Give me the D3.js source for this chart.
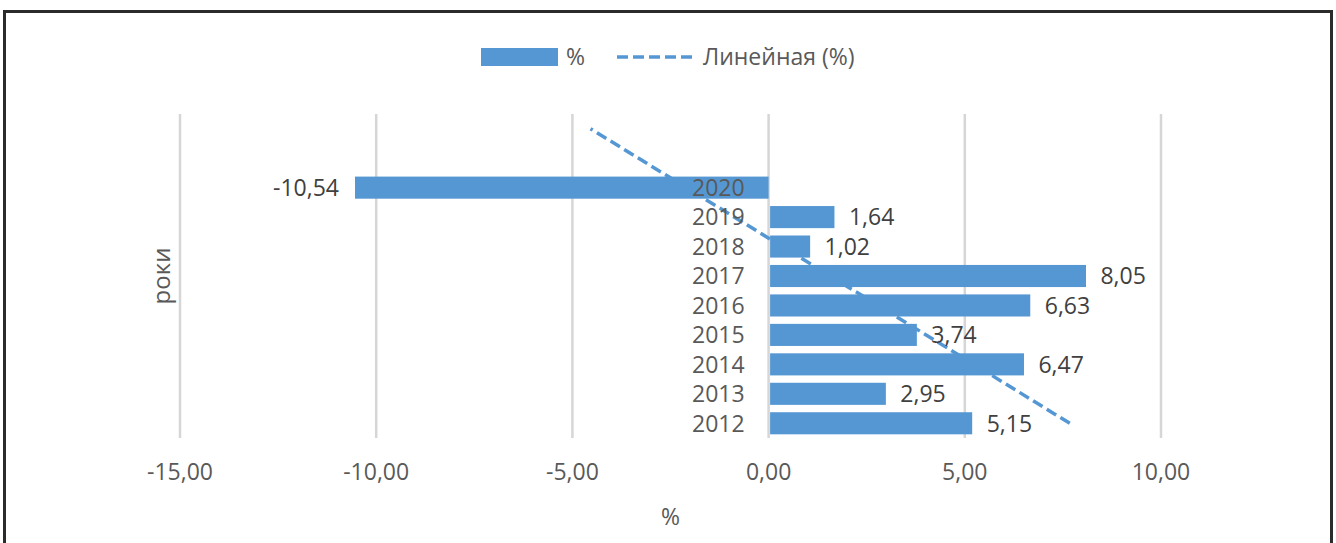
<!DOCTYPE html>
<html>
<head>
<meta charset="utf-8">
<script src="https://cdn.jsdelivr.net/npm/d3@7/dist/d3.min.js"></script>
<style>
  body { margin: 0; background: #fff; }
  text { font-family: "Open Sans", "Liberation Sans", sans-serif; }
</style>
</head>
<body>
<svg id="chart" width="1336" height="543"></svg>
<script>
// data
var years = ["2012", "2013", "2014", "2015", "2016", "2017", "2018", "2019", "2020"]
var values = [5.15, 2.95, 6.47, 3.74, 6.63, 8.05, 1.02, 1.64, -10.54]
var xTicks = [-15, -10, -5, 0, 5, 10]
var forecastSlots = 2   // the trendline runs two empty rows past 2020

var blue = "#5597d3"
var fmt = function (v) { return d3.format(".2f")(v).replace(".", ",").replace("\u2212", "-") }

var svg = d3.select("#chart")

// outer frame (bottom edge is cut off in the picture)
svg.append("rect")
  .attr("x", 4.5).attr("y", 11.5)
  .attr("width", 1327).attr("height", 600)
  .attr("fill", "none")
  .attr("stroke", "#2b2b2b")
  .attr("stroke-width", 3)

var x = d3.scaleLinear().domain([-15, 10]).range([180, 1161])

var slots = d3.range(years.length + forecastSlots)
var y = d3.scaleBand()
  .domain(slots)
  .range([438, 114])
  .paddingInner(0.25)
  .paddingOuter(0.125)
var yc = function (i) { return y(i) + y.bandwidth() / 2 }

// gridlines
svg.append("g")
  .selectAll("line")
  .data(xTicks)
  .enter()
  .append("line")
    .attr("x1", d => x(d)).attr("x2", d => x(d))
    .attr("y1", 114).attr("y2", 438)
    .attr("stroke", "#d6d6d6")
    .attr("stroke-width", 2.5)

// x tick labels
svg.append("g")
  .selectAll("text")
  .data(xTicks)
  .enter()
  .append("text")
    .attr("x", d => x(d))
    .attr("y", 472)
    .attr("dy", "0.35em")
    .attr("text-anchor", "middle")
    .attr("font-size", 23)
    .attr("fill", "#595959")
    .text(fmt)

// bars
svg.append("g")
  .selectAll("rect")
  .data(values)
  .enter()
  .append("rect")
    .attr("x", d => x(Math.min(0, d)) + (d > 0 ? 1.5 : 0))
    .attr("y", (d, i) => y(i))
    .attr("width", d => Math.abs(x(d) - x(0)))
    .attr("height", y.bandwidth())
    .attr("fill", blue)

// linear trendline (least squares over the years, extended two slots)
var n = values.length
var mx = d3.mean(d3.range(n))
var my = d3.mean(values)
var sxy = d3.sum(values, (v, i) => (i - mx) * (v - my))
var sxx = d3.sum(d3.range(n), i => (i - mx) * (i - mx))
var slope = sxy / sxx
var icpt = my - slope * mx
var ends = [0, slots.length - 1]

svg.append("path")
  .datum(ends)
  .attr("d", d3.line().x(i => x(icpt + slope * i)).y(i => yc(i)))
  .attr("fill", "none")
  .attr("stroke", blue)
  .attr("stroke-width", 3.5)
  .attr("stroke-dasharray", "11,5")

// category labels sit against the zero line
svg.append("g")
  .selectAll("text")
  .data(years)
  .enter()
  .append("text")
    .attr("x", x(0) - 24)
    .attr("y", (d, i) => yc(i))
    .attr("dy", "0.36em")
    .attr("text-anchor", "end")
    .attr("font-size", 23)
    .attr("fill", "#595959")
    .text(d => d)

// data labels
svg.append("g")
  .selectAll("text")
  .data(values)
  .enter()
  .append("text")
    .attr("x", d => d >= 0 ? x(d) + 16 : x(d) - 16)
    .attr("y", (d, i) => yc(i))
    .attr("dy", "0.36em")
    .attr("text-anchor", d => d >= 0 ? "start" : "end")
    .attr("font-size", 23)
    .attr("fill", "#404040")
    .text(fmt)

// axis titles
svg.append("text")
  .attr("x", (x(-15) + x(10)) / 2)
  .attr("y", 517)
  .attr("dy", "0.35em")
  .attr("text-anchor", "middle")
  .attr("font-size", 23)
  .attr("fill", "#595959")
  .text("%")

svg.append("text")
  .attr("transform", "translate(162," + 276 + ") rotate(-90)")
  .attr("dy", "0.35em")
  .attr("text-anchor", "middle")
  .attr("font-size", 24)
  .attr("fill", "#595959")
  .text("роки")

// legend
var lg = svg.append("g")
lg.append("rect")
  .attr("x", 481).attr("y", 48)
  .attr("width", 77).attr("height", 18)
  .attr("fill", blue)
lg.append("text")
  .attr("x", 566).attr("y", 57).attr("dy", "0.35em")
  .attr("font-size", 23).attr("fill", "#595959")
  .text("%")
lg.append("line")
  .attr("x1", 617).attr("x2", 695)
  .attr("y1", 57).attr("y2", 57)
  .attr("stroke", blue)
  .attr("stroke-width", 3.5)
  .attr("stroke-dasharray", "11,5")
lg.append("text")
  .attr("x", 703).attr("y", 57).attr("dy", "0.35em")
  .attr("font-size", 23).attr("fill", "#595959")
  .text("Линейная (%)")
</script>
</body>
</html>
